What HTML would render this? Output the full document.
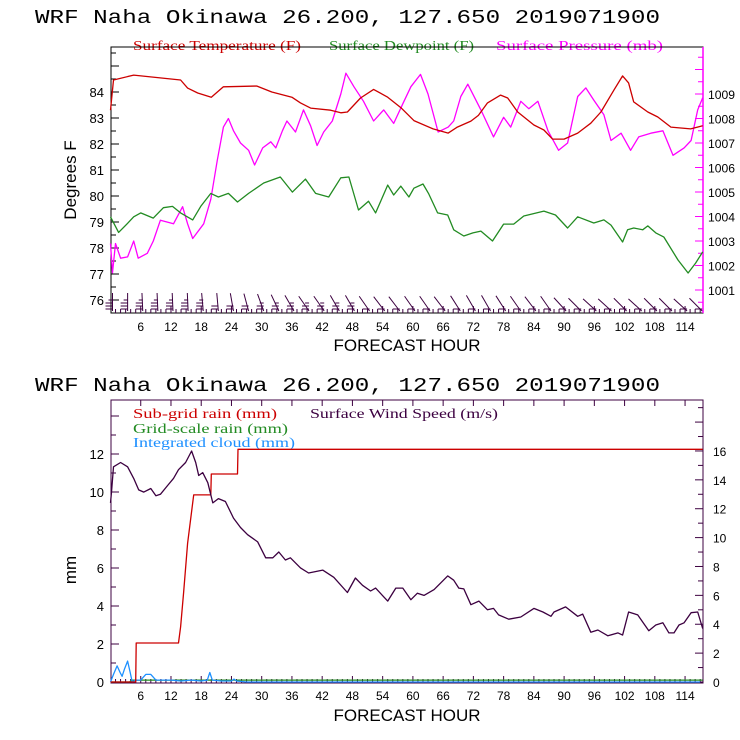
<!DOCTYPE html>
<html><head><meta charset="utf-8"><style>
html,body{margin:0;padding:0;background:#fff;}
svg{display:block;}
text{font-family:"Liberation Sans",sans-serif;}
.ser{font-family:"Liberation Serif",serif;}
.mono{font-family:"Liberation Mono",monospace;}
</style></head><body>
<svg id="chart" width="740" height="740" viewBox="0 0 740 740" xmlns="http://www.w3.org/2000/svg">
<rect width="740" height="740" fill="#fff"/>
<text class="mono" x="35" y="23" font-size="19" textLength="625" lengthAdjust="spacingAndGlyphs" fill="#000">WRF  Naha Okinawa  26.200, 127.650  2019071900</text>
<text class="mono" x="35" y="391" font-size="19" textLength="625" lengthAdjust="spacingAndGlyphs" fill="#000">WRF  Naha Okinawa  26.200, 127.650  2019071900</text>
<text class="ser" x="133" y="50" font-size="14" fill="#cc0000" textLength="168" lengthAdjust="spacingAndGlyphs">Surface Temperature (F)</text>
<text class="ser" x="329" y="50" font-size="14" fill="#228b22" textLength="145" lengthAdjust="spacingAndGlyphs">Surface Dewpoint (F)</text>
<text class="ser" x="496" y="50" font-size="14" fill="#ff00ff" textLength="167" lengthAdjust="spacingAndGlyphs">Surface Pressure (mb)</text>
<text class="ser" x="133" y="418" font-size="14" fill="#cc0000" textLength="144" lengthAdjust="spacingAndGlyphs">Sub-grid rain (mm)</text>
<text class="ser" x="310" y="418" font-size="14" fill="#3c0040" textLength="188" lengthAdjust="spacingAndGlyphs">Surface Wind Speed (m/s)</text>
<text class="ser" x="133" y="433" font-size="14" fill="#228b22" textLength="155" lengthAdjust="spacingAndGlyphs">Grid-scale rain (mm)</text>
<text class="ser" x="133" y="447" font-size="14" fill="#1e90ff" textLength="162" lengthAdjust="spacingAndGlyphs">Integrated cloud (mm)</text>
<text transform="translate(76,180) rotate(-90)" text-anchor="middle" font-size="17" fill="#000">Degrees F</text>
<text transform="translate(76,570) rotate(-90)" text-anchor="middle" font-size="17" fill="#000">mm</text>
<text x="407" y="351" text-anchor="middle" font-size="17" fill="#000">FORECAST HOUR</text>
<text x="407" y="721" text-anchor="middle" font-size="17" fill="#000">FORECAST HOUR</text>
<g id="g"></g>
</svg>
<script>
// ---- data ----
const hourTicks = [6,12,18,24,30,36,42,48,54,60,66,72,78,84,90,96,102,108,114];
const tempTicks = [76,77,78,79,80,81,82,83,84];
const presTicks = [1001,1002,1003,1004,1005,1006,1007,1008,1009];
const mmTicks = [0,2,4,6,8,10,12];
const windTicks = [0,2,4,6,8,10,12,14,16];

const tempHours = [0,0.6,4.6,13.9,15.3,17.3,20,22.4,29,32,36,37.7,39.7,43.7,45.7,47,49.6,52.2,55,57.6,60.2,64,67,68.8,71.5,73,74.8,77.4,78.8,80.8,84,86,87.7,90,92.7,95.3,97.3,99.9,101.6,102.8,103.8,106.6,108.6,111.2,115.1,117.5];
const tempVals = [83.3,84.46,84.65,84.46,84.15,83.96,83.8,84.2,84.23,84.0,83.8,83.58,83.38,83.3,83.2,83.23,83.77,84.1,83.8,83.4,82.9,82.58,82.42,82.65,82.88,83.1,83.58,83.88,83.77,83.23,82.73,82.54,82.19,82.19,82.42,82.8,83.23,84.08,84.62,84.35,83.62,83.23,83.04,82.65,82.58,82.7];

const dewHours = [0,1.6,3.4,4.6,6,8.5,10.5,12.3,13.9,16.3,17.9,19.9,21.4,23.4,25.2,27.4,30.4,33.7,36.1,38.7,40.7,43.3,45.7,47.3,49.2,51.2,52.6,55,56.2,57.6,59.2,60.2,62,63.1,64.9,66.9,68.1,70.1,71.9,73.5,75.8,78,80,82,86,88.3,90.7,92.7,95.9,97.9,99.3,101.6,102.6,103.8,105.6,106.6,108.2,109.8,112.6,114.6,116.1,117.5];
const dewVals = [79.2,78.6,78.95,79.2,79.35,79.15,79.55,79.6,79.35,79.08,79.6,80.1,79.96,80.1,79.77,80.1,80.5,80.73,80.15,80.65,80.1,79.96,80.7,80.73,79.46,79.8,79.35,80.42,80.04,80.38,79.96,80.3,80.46,80.1,79.35,79.27,78.7,78.46,78.58,78.65,78.27,78.92,78.92,79.23,79.42,79.27,78.77,79.2,78.96,79.08,78.88,78.23,78.7,78.77,78.7,78.85,78.58,78.42,77.54,77.04,77.42,77.85];

const presHours = [0,0.4,1,2,3.4,4.6,5.5,7.3,8.5,9.9,12.5,14.3,15.3,16.3,18.5,19.9,21.2,22.4,23.4,24.4,25.8,27.4,28.6,30.2,31.8,32.8,34.1,35,36.7,38.3,39.7,41,42.3,44,45.7,46.7,48.3,50.2,52.2,54.2,56.2,58,59.6,61.5,63,65,67,68.1,69.5,70.9,73.5,76,78,79.4,81.4,83,84.8,86.8,88.9,90.7,92.7,94.3,95.9,97.9,99.3,101.3,103.2,104.8,107.2,109.6,111.6,113.8,115.2,116.5,117.5];
const presVals = [1002.9,1001.7,1002.9,1002.3,1002.35,1003.0,1002.3,1002.5,1003.0,1003.85,1003.7,1004.4,1003.7,1003.1,1003.7,1004.7,1006.3,1007.65,1008.0,1007.5,1007.0,1006.7,1006.1,1006.8,1007.05,1006.8,1007.5,1007.9,1007.45,1008.35,1007.7,1006.9,1007.45,1007.9,1009.0,1009.85,1009.3,1008.7,1007.9,1008.35,1007.8,1008.6,1009.3,1009.8,1009.0,1007.45,1007.65,1007.9,1008.9,1009.4,1008.35,1007.25,1008.05,1007.65,1008.7,1008.4,1008.7,1007.5,1006.7,1007.0,1008.9,1009.25,1008.75,1008.15,1007.1,1007.4,1006.7,1007.25,1007.4,1007.5,1006.5,1006.8,1007.1,1008.35,1008.85];

const windHours = [0,0.2,0.6,2,3.4,4.6,5.6,6.6,8,9,9.9,11.3,12.5,13.5,14.9,16.1,16.9,17.5,18.3,19.3,20.3,21.4,22.8,24.4,25.8,27.2,29.2,30.8,32.2,33.4,34.7,35.7,37.7,39.3,42.1,44.3,47,48.6,50,51.6,52.6,55,56.6,58,59.6,60.9,62.2,64.2,65.5,66.9,68.1,69.1,70.1,71.5,73.1,74.8,76,77,79,81.4,84,85.8,87.4,88,90.3,92.7,93.7,95.3,96.7,98.7,100.7,101.6,102.8,104.6,106.8,108.2,109.6,110.8,111.8,112.8,113.8,115.2,116.5,117.5];
const windVals = [12.4,13.15,14.9,15.2,14.9,14.1,13.3,13.15,13.4,12.9,13.0,13.6,14.1,14.7,15.2,16.0,15.2,14.3,14.5,13.8,12.4,12.7,12.5,11.35,10.7,10.2,9.7,8.6,8.6,9.0,8.45,8.6,7.9,7.55,7.75,7.25,6.2,7.2,6.7,6.3,6.5,5.6,6.5,6.5,5.7,6.15,6.0,6.4,6.85,7.35,7.05,6.5,6.45,5.35,5.6,5.0,5.1,4.65,4.35,4.5,5.1,4.85,4.55,4.85,5.2,4.55,4.7,3.45,3.6,3.2,3.4,3.25,4.85,4.65,3.55,3.95,4.1,3.4,3.4,3.95,4.1,4.8,4.85,3.7];

const rainHours = [0,5,5.1,13.5,13.9,14.5,15.3,16.5,19.9,20.0,25.2,25.3,117.5];
const rainVals = [0,0,2.05,2.05,2.9,4.7,7.3,9.85,9.85,10.95,10.95,12.25,12.25];
const gridRainHours = [0,3.8,4.2,117.5];
const gridRainVals = [0,0,0.1,0.1];
const cloudHours = [0,0.6,1.3,1.9,2.3,2.8,3.4,3.9,4.3,5,6,7,8,9,12,14,16,18,19.2,19.7,20.2,22,24,24.5,25,27,30,117];
const cloudVals = [0,0.4,0.85,0.5,0.3,0.7,1.1,0.5,0,0.1,0.1,0.4,0.4,0.1,0.1,0.05,0.1,0.05,0.1,0.5,0.1,0.05,0.05,0.15,0.05,0.0,0,0];

const barbHours = [0,3,6,9,12,15,18,21,24,27,30,33,36,39,42,45,48,51,54,57,60,63,66,69,72,75,78,81,84,87,90,93,96,99,102,105,108,111,114,117];
const barbDirs = [90,90,95,95,95,95,100,100,110,120,130,140,150,160,160,150,150,160,165,165,160,160,165,155,150,150,155,160,165,160,175,180,185,185,180,185,180,180,185,180];
const barbSpeed = [25,25,25,25,25,25,25,20,20,20,15,15,15,15,15,15,15,10,10,10,10,10,10,10,10,10,10,10,10,10,10,10,10,10,10,10,10,10,10,10];

// ---- scales ----
const X0=110.5, XS=5.04;
const xH = h => X0 + h*XS;
const yT = t => 92 + (84 - t)*26;
const yP = p => 94 + (1009 - p)*24.5;
const yMM = v => 682 - v*19.0;
const yW = v => 682 - v*14.44;

const NS="http://www.w3.org/2000/svg";
const G=document.getElementById('g');
function mk(tag, attrs, parent){
  const e=document.createElementNS(NS,tag);
  for(const k in attrs) e.setAttribute(k,attrs[k]);
  (parent||G).appendChild(e); return e;
}
function series(hs, vs, ys, color, name, step){
  let pts=[];
  for(let i=0;i<hs.length;i++){
    if(step && i>0) pts.push(xH(hs[i]).toFixed(1)+','+ys(vs[i-1]).toFixed(1));
    pts.push(xH(hs[i]).toFixed(1)+','+ys(vs[i]).toFixed(1));
  }
  const p=mk('polyline',{points:pts.join(' '),fill:'none',stroke:color,'stroke-width':1.3,'stroke-linejoin':'round'});
  
  
}

// ---- top plot frame ----
const TT=47, TB=313, L=111, R=703, BT=400, BB=683;
let fr=mk('rect',{x:L,y:TT,width:R-L,height:TB-TT,fill:'none',stroke:'#000','stroke-width':1});


let ra=mk('line',{x1:R,y1:TT,x2:R,y2:TB,stroke:'#ff00ff','stroke-width':1.5});


for(let t=75.5;t<=85.75;t+=0.5){
  const y=yT(t); if(y<TT||y>TB) continue;
  const major = Math.abs(t-Math.round(t))<0.01;
  mk('line',{x1:L,y1:y,x2:L+(major?8:5),y2:y,stroke:'#000','stroke-width':1});
}
tempTicks.forEach(t=>{
  const e=mk('text',{x:104,y:yT(t)+5,'text-anchor':'end','font-size':13,fill:'#000'});
  e.textContent=t;
  
  
});
for(let p=1000;p<=1011;p+=0.5){
  const y=yP(p); if(y<TT||y>TB) continue;
  const major=Math.abs(p-Math.round(p))<0.01;
  mk('line',{x1:R,y1:y,x2:R-(major?8:5),y2:y,stroke:'#ff00ff','stroke-width':1});
}
presTicks.forEach(p=>{
  const e=mk('text',{x:708,y:yP(p)+5,'font-size':12,fill:'#000',textLength:27,lengthAdjust:'spacingAndGlyphs'});
  e.textContent=p;
  
  
});
for(let h=1;h<118;h++){
  const x=xH(h);
  const major=h%6===0;
  mk('line',{x1:x,y1:TB,x2:x,y2:TB-(major?7:4),stroke:'#3c0040','stroke-width':1});
  mk('line',{x1:x,y1:BB,x2:x,y2:BB-(major?7:4),stroke:'#3c0040','stroke-width':1});
  if(major){ mk('line',{x1:x,y1:BT,x2:x,y2:BT+6,stroke:'#3c0040','stroke-width':1}); }
}
hourTicks.forEach(h=>{
  const a=mk('text',{x:xH(h),y:331,'text-anchor':'middle','font-size':12,fill:'#000'});
  a.textContent=h;
  
  
  const b=mk('text',{x:xH(h),y:700,'text-anchor':'middle','font-size':12,fill:'#000'});
  b.textContent=h;
  
  
});

series(presHours,presVals,yP,'#ff00ff','pressure-line');
series(dewHours,dewVals,yT,'#228b22','dewpoint-line');
series(tempHours,tempVals,yT,'#cc0000','temperature-line');

barbHours.forEach((h,i)=>{
  const bx=xH(h)+2, by=311;
  const a=(barbDirs[i]-90)*Math.PI/180*0.5;
  const len=18;
  const tx=bx+Math.sin(-a)*len, ty=by-Math.cos(a)*len;
  const g=mk('g',{stroke:'#3c0040','stroke-width':1,fill:'none'});
  
  
  mk('line',{x1:bx,y1:by,x2:tx,y2:ty},g);
  const n=Math.round(barbSpeed[i]/10);
  for(let k=0;k<n;k++){
    const yy=by-2-k*3;
    mk('line',{x1:bx,y1:yy,x2:bx-7,y2:yy},g);
  }
  if(barbSpeed[i]%10) mk('line',{x1:bx,y1:by-2-n*3,x2:bx-4,y2:by-2-n*3},g);
});

// ---- bottom plot ----
let fb=mk('rect',{x:L,y:BT,width:R-L,height:BB-BT,fill:'none',stroke:'#3c0040','stroke-width':1});


for(let v=0;v<=14;v++){
  const y=yMM(v); if(y<BT) continue;
  mk('line',{x1:L,y1:y,x2:L+(v%2===0?8:5),y2:y,stroke:'#3c0040','stroke-width':1});
}
for(let v=0;v<=19;v++){
  const y=yW(v); if(y<BT) continue;
  mk('line',{x1:R,y1:y,x2:R-(v%2===0?8:5),y2:y,stroke:'#3c0040','stroke-width':1});
}
mmTicks.forEach(v=>{
  const e=mk('text',{x:104,y:yMM(v)+5,'text-anchor':'end','font-size':13,fill:'#000'});
  e.textContent=v;
  
  
});
windTicks.forEach(v=>{
  const e=mk('text',{x:713,y:yW(v)+5,'font-size':12,fill:'#000'});
  e.textContent=v;
  
  
});
series(gridRainHours,gridRainVals,yMM,'#228b22','grid-rain-line');
series(cloudHours,cloudVals,yMM,'#1e90ff','cloud-line');
series(rainHours,rainVals,yMM,'#cc0000','subgrid-rain-line');
series(windHours,windVals,yW,'#3c0040','wind-speed-line');
</script>
</body></html>
